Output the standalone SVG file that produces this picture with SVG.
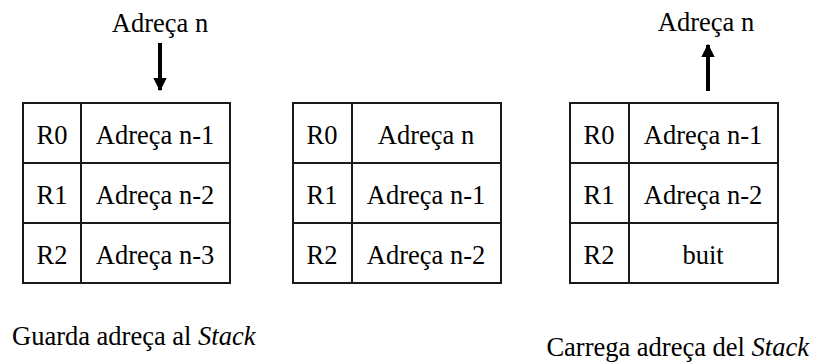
<svg xmlns="http://www.w3.org/2000/svg" width="813" height="363" viewBox="0 0 813 363">
  <style>
    text { font-family: "Liberation Serif", "Times New Roman", serif; font-size: 26.5px; fill: #000; }
    .c { text-anchor: middle; }
    .cell { fill: #fff; stroke: #1a1a1a; stroke-width: 2; }
    .arrow { stroke: #000; stroke-width: 4; fill: none; }
  </style>
  <defs>
    <marker id="head" viewBox="0 0 10 10" refX="9" refY="5" markerWidth="3.4" markerHeight="3.6" orient="auto" markerUnits="strokeWidth">
      <path d="M0,0 L10,5 L0,10 Z" fill="#000"/>
    </marker>
  </defs>

  <!-- push: stack before adding the new address -->
  <g id="stack-push">
    <rect class="cell" x="23" y="103" width="207" height="180"/>
    <line class="cell" x1="81" y1="103" x2="81" y2="283"/>
    <line class="cell" x1="23" y1="163" x2="230" y2="163"/>
    <line class="cell" x1="23" y1="223" x2="230" y2="223"/>
    <text class="c" x="52" y="144">R0</text>
    <text class="c" x="155" y="144">Adreça n-1</text>
    <text class="c" x="52" y="204">R1</text>
    <text class="c" x="155" y="204">Adreça n-2</text>
    <text class="c" x="52" y="264">R2</text>
    <text class="c" x="155" y="264">Adreça n-3</text>
  </g>

  <!-- stack holding the pushed address -->
  <g id="stack-full">
    <rect class="cell" x="293" y="103" width="208" height="180"/>
    <line class="cell" x1="352" y1="103" x2="352" y2="283"/>
    <line class="cell" x1="293" y1="163" x2="501" y2="163"/>
    <line class="cell" x1="293" y1="223" x2="501" y2="223"/>
    <text class="c" x="322" y="144">R0</text>
    <text class="c" x="426" y="144">Adreça n</text>
    <text class="c" x="322" y="204">R1</text>
    <text class="c" x="426" y="204">Adreça n-1</text>
    <text class="c" x="322" y="264">R2</text>
    <text class="c" x="426" y="264">Adreça n-2</text>
  </g>

  <!-- pop: stack after removing the top address -->
  <g id="stack-pop">
    <rect class="cell" x="570" y="103" width="208" height="180"/>
    <line class="cell" x1="629" y1="103" x2="629" y2="283"/>
    <line class="cell" x1="570" y1="163" x2="778" y2="163"/>
    <line class="cell" x1="570" y1="223" x2="778" y2="223"/>
    <text class="c" x="599" y="144">R0</text>
    <text class="c" x="703" y="144">Adreça n-1</text>
    <text class="c" x="599" y="204">R1</text>
    <text class="c" x="703" y="204">Adreça n-2</text>
    <text class="c" x="599" y="264">R2</text>
    <text class="c" x="703" y="264">buit</text>
  </g>

  <g id="label-in">
    <text class="c" x="160" y="32">Adreça n</text>
  </g>
  <g id="label-out">
    <text class="c" x="706" y="31">Adreça n</text>
  </g>

  <g id="connectors">
    <line class="arrow" x1="160" y1="43" x2="160" y2="90" marker-end="url(#head)"/>
    <line class="arrow" x1="708" y1="91" x2="708" y2="45" marker-end="url(#head)"/>
  </g>

  <g id="captions">
    <text x="12" y="345">Guarda adreça al <tspan font-style="italic">Stack</tspan></text>
    <text x="809" y="356" text-anchor="end">Carrega adreça del <tspan font-style="italic">Stack</tspan></text>
  </g>
</svg>
